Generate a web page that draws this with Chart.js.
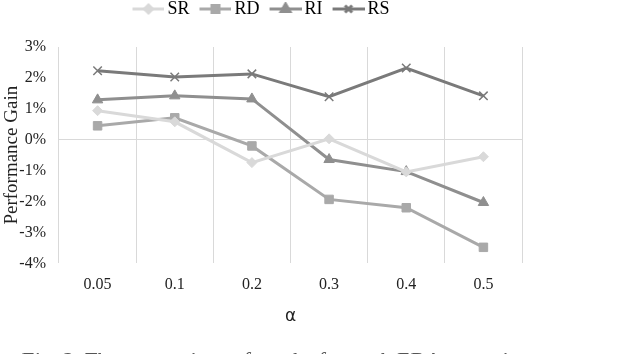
<!DOCTYPE html>
<html>
<head>
<meta charset="utf-8">
<script src="https://cdn.jsdelivr.net/npm/chart.js@4"></script>
<style>
  html, body { margin: 0; padding: 0; background: #fff; }
  #wrap { width: 626px; height: 354px; position: relative; }
</style>
</head>
<body>
<div id="wrap"><canvas id="gainChart"></canvas></div>
<script>
// Data
const alphaLabels = ['0.05', '0.1', '0.2', '0.3', '0.4', '0.5'];
const seriesNames = ['SR', 'RD', 'RI', 'RS'];
const srGain = [0.94, 0.58, -0.74, 0.03, -1.04, -0.55];
const rdGain = [0.45, 0.71, -0.2, -1.93, -2.2, -3.48];
const riGain = [1.29, 1.42, 1.32, -0.64, -1.03, -2.03];
const rsGain = [2.23, 2.03, 2.13, 1.39, 2.32, 1.42];
const yTicks = [3, 2, 1, 0, -1, -2, -3, -4];

const serif = "'Liberation Serif', 'Times New Roman', serif";

const styles = [
    { color: '#d9d9d9', point: 'rectRot', radius: 5, pw: 1 },
    { color: '#a9a9a9', point: 'rect', radius: 6, pw: 1 },
    { color: '#8f8f8f', point: 'triangle', radius: 6, pw: 1 },
    { color: '#7a7a7a', point: 'crossRot', radius: 6, pw: 1.5 }
];
const values = [srGain, rdGain, riGain, rsGain];

// legend swatch: line with the marker in the middle, reaching a bit past the box
// so the text sits close to it like in the source
function legendIcon(st) {
    const c = document.createElement('canvas');
    c.width = 38; c.height = 14;
    const g = c.getContext('2d');
    g.strokeStyle = st.color;
    g.lineWidth = 3;
    g.beginPath();
    g.moveTo(6, 7); g.lineTo(38, 7);
    g.stroke();
    g.fillStyle = st.color;
    Chart.helpers.drawPoint(g, { pointStyle: st.point, radius: st.radius - 1, borderWidth: st.pw, rotation: 0 }, 22, 7);
    return c;
}

// extra room under the legend, and legend pulled up to the top edge
const legendGap = {
    id: 'legendGap',
    afterInit(chart) {
        const fit = chart.legend.fit;
        chart.legend.fit = function () {
            fit.call(this);
            this.height += 9;
        };
    },
    afterLayout(chart) {
        chart.legend.top -= 10;
        chart.legend.bottom -= 10;
    }
};

// figure caption, cut off at the bottom edge as in the source
const captionPlugin = {
    id: 'caption',
    afterDraw(chart) {
        const ctx = chart.ctx;
        ctx.save();
        ctx.font = "italic 22px " + serif;
        ctx.fillStyle = '#555';
        ctx.textBaseline = 'alphabetic';
        ctx.fillText('Fig. 2. The comparison of results for each EDA operation', 20, 367);
        ctx.restore();
    }
};

const ctx = document.getElementById('gainChart').getContext('2d');
const gainChart = new Chart(ctx, {
    type: 'line',
    data: {
        labels: alphaLabels,
        datasets: seriesNames.map((name, i) => ({
            label: name,
            data: values[i],
            borderColor: styles[i].color,
            backgroundColor: styles[i].color,
            borderWidth: 3,
            pointStyle: styles[i].point,
            pointRadius: styles[i].radius,
            pointBorderWidth: styles[i].pw,
            tension: 0,
            fill: false
        }))
    },
    options: {
        responsive: true,
        maintainAspectRatio: false,
        animation: false,
        layout: {
            padding: { left: 0, right: 104, top: 0, bottom: 27 }
        },
        plugins: {
            legend: {
                position: 'top',
                labels: {
                    usePointStyle: true,
                    pointStyleWidth: 26,
                    color: '#000',
                    padding: 10,
                    font: { family: serif, size: 18 },
                    generateLabels(chart) {
                        return chart.data.datasets.map((ds, i) => ({
                            text: ds.label,
                            fillStyle: styles[i].color,
                            strokeStyle: styles[i].color,
                            pointStyle: legendIcon(styles[i]),
                            datasetIndex: i,
                            hidden: false,
                            lineWidth: 0
                        }));
                    }
                }
            },
            tooltip: { enabled: false }
        },
        scales: {
            x: {
                offset: true,
                grid: {
                    display: true,
                    offset: true,
                    color: '#d9d9d9',
                    drawTicks: false
                },
                border: { display: false },
                ticks: {
                    color: '#222',
                    padding: 12,
                    font: { family: serif, size: 16 }
                },
                title: {
                    display: true,
                    text: 'α',
                    color: '#222',
                    padding: { top: 0, bottom: 0 },
                    font: { family: "'DejaVu Sans', sans-serif", size: 17 }
                }
            },
            y: {
                min: -4,
                max: 3,
                afterBuildTicks(scale) {
                    scale.ticks = yTicks.map(v => ({ value: v }));
                },
                afterFit(scale) {
                    scale.width = 59;
                },
                grid: {
                    drawTicks: false,
                    color: c => (c.tick && c.tick.value === 0) ? '#d9d9d9' : 'rgba(0,0,0,0)'
                },
                border: { display: false },
                ticks: {
                    color: '#222',
                    padding: 13,
                    font: { family: serif, size: 16 },
                    callback: v => v + '%'
                },
                title: {
                    display: true,
                    text: 'Performance Gain',
                    color: '#222',
                    padding: { top: 1, bottom: 0 },
                    font: { family: serif, size: 19 }
                }
            }
        }
    },
    plugins: [legendGap, captionPlugin]
});
</script>
</body>
</html>
